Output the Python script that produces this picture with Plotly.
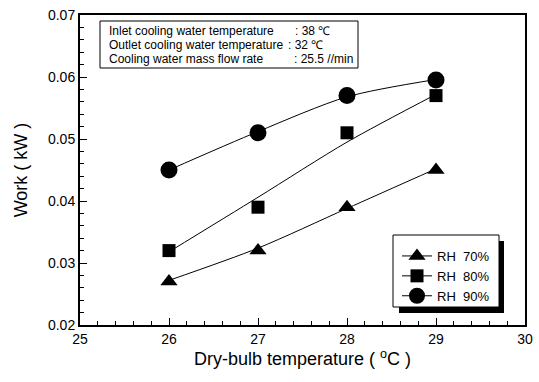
import plotly.graph_objects as go

# Data
temps = [26, 27, 28, 29]
rh70 = [0.027, 0.032, 0.039, 0.045]
rh80 = [0.032, 0.039, 0.051, 0.057]
rh90 = [0.045, 0.051, 0.057, 0.0595]
# fitted-curve values at the same temperatures
fit70 = [0.0272, 0.0324, 0.0388, 0.0452]
fit80 = [0.0318, 0.0406, 0.0495, 0.0572]
fit90 = [0.0450, 0.0512, 0.0568, 0.0596]
series_names = ["RH\u00a0\u00a070%", "RH\u00a0\u00a080%", "RH\u00a0\u00a090%"]
info_labels = ["Inlet cooling water temperature", "Outlet cooling water temperature", "Cooling water mass flow rate"]
info_values = [": 38 ℃", ": 32 ℃", ": 25.5 //min"]

FONT = "Liberation Sans, Arial"
fig = go.Figure()
specs = [(rh70, fit70, "triangle-up", 15), (rh80, fit80, "square", 13), (rh90, fit90, "circle", 17)]
for (vals, fit, sym, sz), name in zip(specs, series_names):
    fig.add_trace(go.Scatter(x=temps, y=fit, mode="lines", line=dict(color="black", width=1, shape="spline", smoothing=0.8),
                             showlegend=False, hoverinfo="skip"))
    fig.add_trace(go.Scatter(x=temps, y=vals, mode="markers", name=name,
                             marker=dict(symbol=sym, size=sz, color="black"), showlegend=False))
    fig.add_trace(go.Scatter(x=[None], y=[None], mode="lines+markers", name=name,
                             line=dict(color="black", width=1),
                             marker=dict(symbol=sym, size=sz, color="black")))

axis_common = dict(showline=True, linecolor="black", linewidth=2, mirror=True, ticks="inside",
                   tickcolor="black", showgrid=False, zeroline=False, automargin=False,
                   tickfont=dict(family=FONT, size=14, color="black"))
fig.update_xaxes(range=[25, 30], dtick=1, ticklen=7, tickwidth=1,
                 minor=dict(dtick=0.2, ticks="inside", ticklen=4, tickcolor="black", showgrid=False),
                 title=dict(text="Dry-bulb temperature ( <sup>o</sup>C )", font=dict(family=FONT, size=18, color="black"), standoff=4),
                 **axis_common)
fig.update_yaxes(range=[0.02, 0.07], dtick=0.01, tickformat=".2f", ticklen=7, tickwidth=1,
                 minor=dict(dtick=0.002, ticks="inside", ticklen=4, tickcolor="black", showgrid=False),
                 title=dict(text="Work ( kW )", font=dict(family=FONT, size=18, color="black"), standoff=16),
                 **axis_common)

W, H = 539, 382
L, R, T, B = 80, 14, 15, 57
pw, ph = W - L - R, H - T - B
def px(x):
    return (x - L) / pw
def py(y):
    return 1 - (y - T) / ph

shapes = []
shapes.append(dict(type="rect", xref="paper", yref="paper", x0=px(100), x1=px(358), y0=py(68), y1=py(21),
                   line=dict(color="black", width=1), fillcolor="white"))
shapes.append(dict(type="rect", xref="paper", yref="paper", x0=px(399), x1=px(504), y0=py(313), y1=py(241),
                   line=dict(width=0), fillcolor="black"))
shapes.append(dict(type="rect", xref="paper", yref="paper", x0=px(393), x1=px(499), y0=py(307), y1=py(235),
                   line=dict(color="black", width=1), fillcolor="white"))
fig.update_layout(shapes=shapes)

rows_y = [31, 45, 59]
val_x = [293, 286, 292]
for lab, val, yy, vx in zip(info_labels, info_values, rows_y, val_x):
    fig.add_annotation(xref="paper", yref="paper", x=px(107), y=py(yy), text=lab, showarrow=False,
                       xanchor="left", yanchor="middle", font=dict(family=FONT, size=12, color="black"))
    fig.add_annotation(xref="paper", yref="paper", x=px(vx), y=py(yy), text=val, showarrow=False,
                       xanchor="left", yanchor="middle", font=dict(family=FONT, size=12, color="black"))

fig.update_layout(width=W, height=H, margin=dict(l=L, r=R, t=T, b=B, autoexpand=False),
                  paper_bgcolor="white", plot_bgcolor="white",
                  legend=dict(x=px(397), y=py(241), xanchor="left", yanchor="top", bgcolor="rgba(0,0,0,0)",
                              font=dict(family=FONT, size=13, color="black"),
                              tracegroupgap=0, itemwidth=30),
                  showlegend=True)
fig.write_html("out.html", config={"displayModeBar": False},
               post_script="document.body.style.margin='0';document.body.style.padding='0';")
